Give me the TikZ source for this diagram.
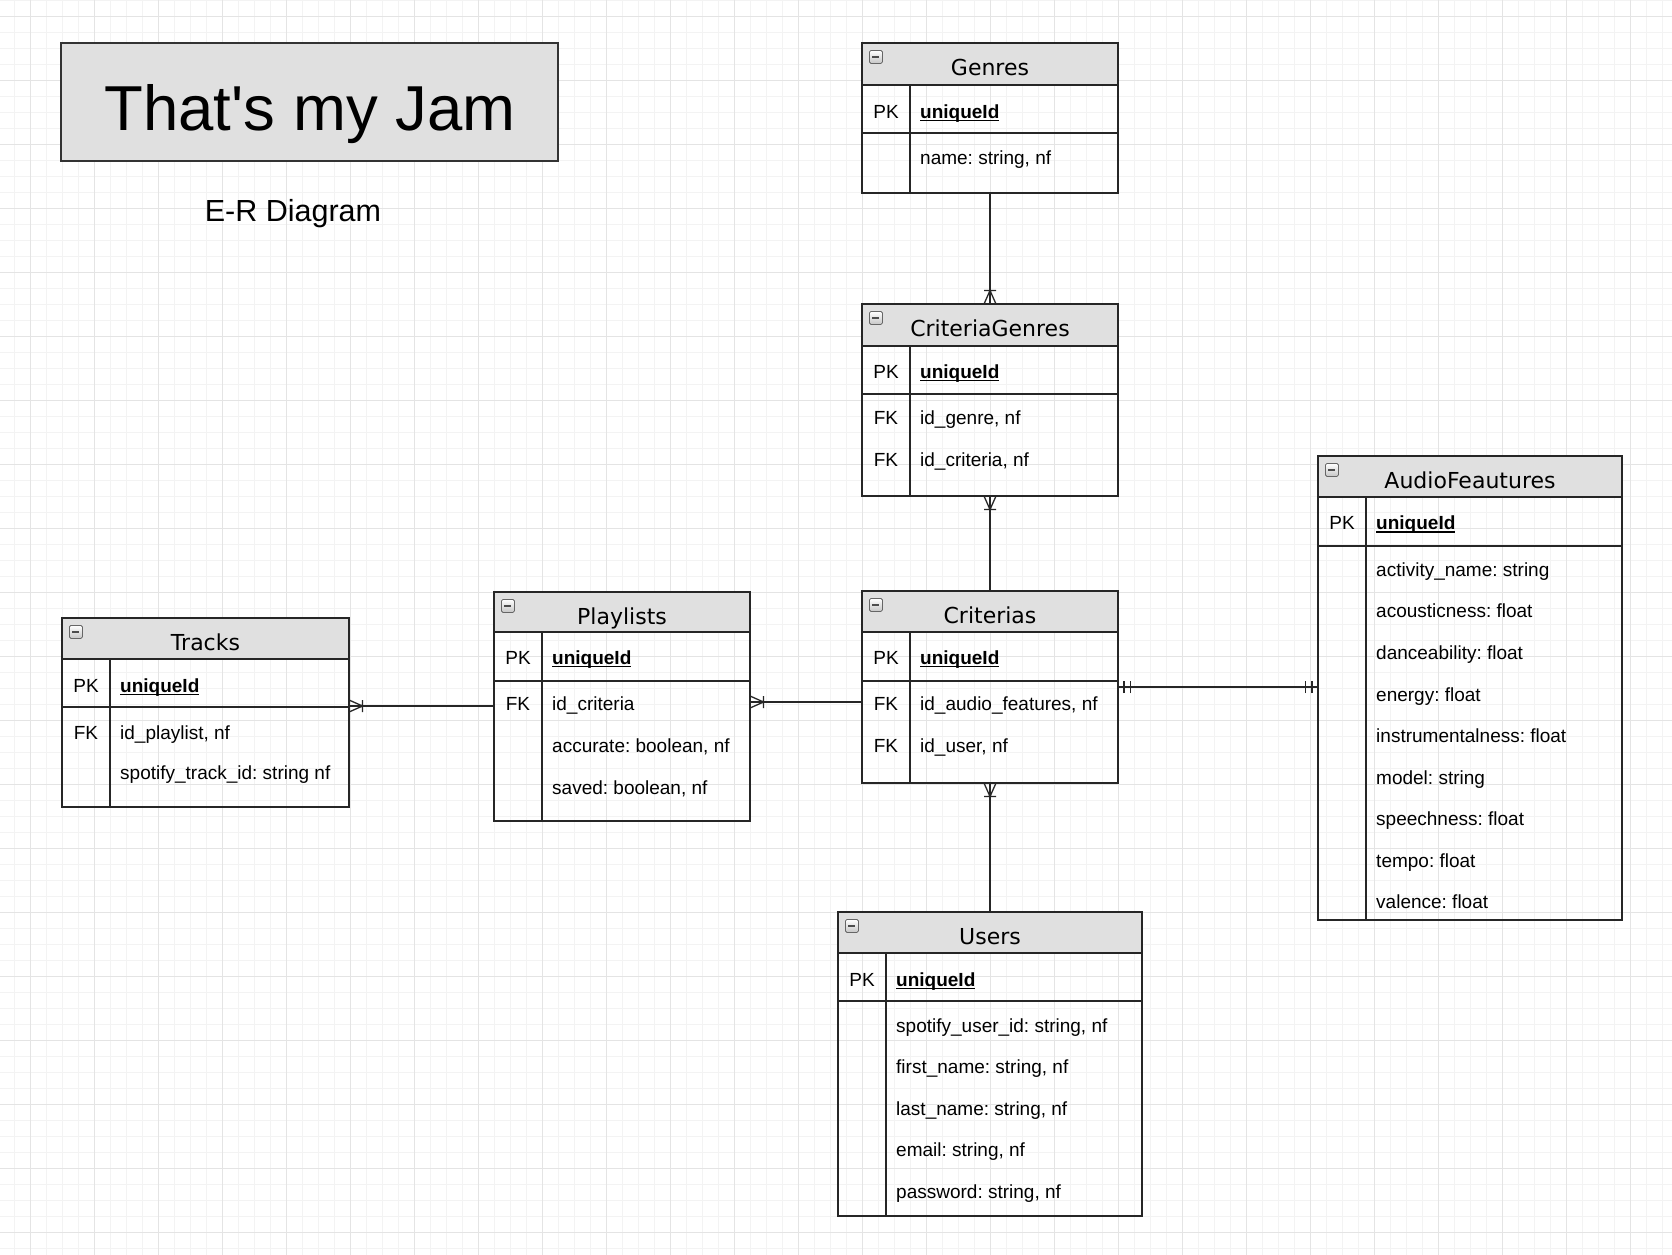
\documentclass[tikz,border=0pt]{standalone}
\usepackage{fontspec}
\setmainfont{Liberation Sans}
\newfontfamily\headfont{DejaVu Sans}
\usepackage{xcolor}
\usetikzlibrary{
    arrows.meta,
    shapes,
    positioning,
    calc,
    decorations.markings
}
\definecolor{headgray}{HTML}{E0E0E0}
\definecolor{gridmajor}{HTML}{E4E4E4}
\definecolor{gridminor}{HTML}{F3F3F3}
\frenchspacing
\newcommand{\pkfield}[1]{\setbox0\hbox{\textbf{#1}}\rlap{\rule[-3pt]{\wd0}{1.3pt}}\box0}

\begin{document}
\begin{tikzpicture}[x=1pt, y=-1pt,
    table-node/.style={rectangle, draw=black!85, line width=1.4pt, anchor=north west, inner sep=0pt, outer sep=0pt},
    head-node/.style={table-node, fill=headgray},
    icon-node/.style={rectangle, anchor=north west, minimum size=13pt, inner sep=0pt, rounded corners=1.5pt,
        draw=gray!80!black, line width=0.8pt, top color=white, bottom color=gray!45,
        path picture={\draw[line width=1.6pt, black!70] ([xshift=3pt]path picture bounding box.west) -- ([xshift=-3pt]path picture bounding box.east);}},
    title-node/.style={anchor=base, inner sep=0pt, font=\headfont\fontsize{22}{26}\selectfont},
    key-node/.style={anchor=base, inner sep=0pt, font=\fontsize{19}{23}\selectfont},
    field-node/.style={anchor=base west, inner sep=0pt, font=\fontsize{19}{23}\selectfont},
    row-line/.style={draw=black!85, line width=1.4pt},
    conn/.style={draw=black!85, line width=1.3pt},
    many-start/.style={postaction={decorate, decoration={markings, mark=at position 0 with {\draw[conn] (0,6) -- (13.5,0) -- (0,-6) (13.5,6) -- (13.5,-6);}}}},
    many-end/.style={postaction={decorate, decoration={markings, mark=at position 1 with {\draw[conn] (0,6) -- (-13.5,0) -- (0,-6) (-13.5,6) -- (-13.5,-6);}}}},
    one-both/.style={postaction={decorate, decoration={markings,
        mark=at position 0 with {\draw[conn] (6,6) -- (6,-6) (12.5,6) -- (12.5,-6);},
        mark=at position 1 with {\draw[conn] (-6,6) -- (-6,-6) (-12.5,6) -- (-12.5,-6);}}}}
]
\useasboundingbox (0,0) rectangle (1672,1254);
\fill[white] (0,0) rectangle (1672,1254);
% grid
\begin{scope}
    \clip (0,0) rectangle (1672,1254);
    \draw[gridminor, line width=1pt, step=16pt, shift={(14.6,0)}] (-32,1300) grid (1700,-32);
    \draw[gridmajor, line width=1pt, step=64pt, shift={(30.6,16)}] (-128,1300) grid (1700,-128);
\end{scope}

% title
\node[table-node, fill=headgray, draw=black!80, line width=1.5pt, minimum width=497, minimum height=118] (title-box) at (61,43) {};
\node[anchor=base, font=\fontsize{63.5}{70}\selectfont] (title) at (310,130) {That\textquotesingle s my Jam};
\node[anchor=base, font=\fontsize{30.5}{34}\selectfont] (subtitle) at (293,221) {E-R Diagram};

% Genres
\node[head-node, minimum width=256, minimum height=42] (genres-head) at (862,43) {};
\node[table-node, minimum width=256, minimum height=150] (genres) at (862,43) {};
\node[icon-node] (genres-icon) at (869,50) {};
\node[title-node] (genres-title) at (990,75.5) {Genres};
\draw[row-line] (862,133) -- (1118,133);
\draw[row-line] (910,85) -- (910,193);
\node[key-node] (genres-pk) at (886,118) {PK};
\node[field-node] (genres-id) at (920,118) {\pkfield{uniqueId}};
\node[field-node] (genres-name) at (920,164) {name: string, nf};

% CriteriaGenres
\node[head-node, minimum width=256, minimum height=42] (critgenres-head) at (862,304) {};
\node[table-node, minimum width=256, minimum height=192] (critgenres) at (862,304) {};
\node[icon-node] (critgenres-icon) at (869,311) {};
\node[title-node] (critgenres-title) at (990,336.5) {CriteriaGenres};
\draw[row-line] (862,394) -- (1118,394);
\draw[row-line] (910,346) -- (910,496);
\node[key-node] (critgenres-pk) at (886,378) {PK};
\node[field-node] (critgenres-id) at (920,378) {\pkfield{uniqueId}};
\node[key-node] (critgenres-fk1) at (886,424) {FK};
\node[field-node] (critgenres-genre) at (920,424) {id\_genre, nf};
\node[key-node] (critgenres-fk2) at (886,466) {FK};
\node[field-node] (critgenres-criteria) at (920,466) {id\_criteria, nf};

% Criterias
\node[head-node, minimum width=256, minimum height=41] (criterias-head) at (862,591) {};
\node[table-node, minimum width=256, minimum height=192] (criterias) at (862,591) {};
\node[icon-node] (criterias-icon) at (869,598) {};
\node[title-node] (criterias-title) at (990,623.5) {Criterias};
\draw[row-line] (862,681) -- (1118,681);
\draw[row-line] (910,632) -- (910,783);
\node[key-node] (criterias-pk) at (886,664) {PK};
\node[field-node] (criterias-id) at (920,664) {\pkfield{uniqueId}};
\node[key-node] (criterias-fk1) at (886,710) {FK};
\node[field-node] (criterias-audio) at (920,710) {id\_audio\_features, nf};
\node[key-node] (criterias-fk2) at (886,752) {FK};
\node[field-node] (criterias-user) at (920,752) {id\_user, nf};

% Playlists
\node[head-node, minimum width=256, minimum height=40] (playlists-head) at (494,592) {};
\node[table-node, minimum width=256, minimum height=229] (playlists) at (494,592) {};
\node[icon-node] (playlists-icon) at (501,599) {};
\node[title-node] (playlists-title) at (622,624.5) {Playlists};
\draw[row-line] (494,681) -- (750,681);
\draw[row-line] (542,632) -- (542,821);
\node[key-node] (playlists-pk) at (518,664) {PK};
\node[field-node] (playlists-id) at (552,664) {\pkfield{uniqueId}};
\node[key-node] (playlists-fk) at (518,710) {FK};
\node[field-node] (playlists-criteria) at (552,710) {id\_criteria};
\node[field-node] (playlists-accurate) at (552,752) {accurate: boolean, nf};
\node[field-node] (playlists-saved) at (552,794) {saved: boolean, nf};

% Tracks
\node[head-node, minimum width=287, minimum height=41] (tracks-head) at (62,618) {};
\node[table-node, minimum width=287, minimum height=189] (tracks) at (62,618) {};
\node[icon-node] (tracks-icon) at (69,625) {};
\node[title-node] (tracks-title) at (205.5,650) {Tracks};
\draw[row-line] (62,707) -- (349,707);
\draw[row-line] (110,659) -- (110,807);
\node[key-node] (tracks-pk) at (86,692) {PK};
\node[field-node] (tracks-id) at (120,692) {\pkfield{uniqueId}};
\node[key-node] (tracks-fk) at (86,739) {FK};
\node[field-node] (tracks-playlist) at (120,739) {id\_playlist, nf};
\node[field-node] (tracks-spotify) at (120,779) {spotify\_track\_id: string nf};

% AudioFeautures
\node[head-node, minimum width=304, minimum height=41] (audio-head) at (1318,456) {};
\node[table-node, minimum width=304, minimum height=464] (audio) at (1318,456) {};
\node[icon-node] (audio-icon) at (1325,463) {};
\node[title-node] (audio-title) at (1470,488) {AudioFeautures};
\draw[row-line] (1318,546) -- (1622,546);
\draw[row-line] (1366,497) -- (1366,920);
\node[key-node] (audio-pk) at (1342,529.5) {PK};
\node[field-node] (audio-id) at (1376,529.5) {\pkfield{uniqueId}};
\node[field-node] (audio-activity) at (1376,576) {activity\_name: string};
\node[field-node] (audio-acoustic) at (1376,617.5) {acousticness: float};
\node[field-node] (audio-dance) at (1376,659) {danceability: float};
\node[field-node] (audio-energy) at (1376,701) {energy: float};
\node[field-node] (audio-instr) at (1376,742) {instrumentalness: float};
\node[field-node] (audio-model) at (1376,784) {model: string};
\node[field-node] (audio-speech) at (1376,825.5) {speechness: float};
\node[field-node] (audio-tempo) at (1376,867) {tempo: float};
\node[field-node] (audio-valence) at (1376,908.5) {valence: float};

% Users
\node[head-node, minimum width=304, minimum height=41] (users-head) at (838,912) {};
\node[table-node, minimum width=304, minimum height=304] (users) at (838,912) {};
\node[icon-node] (users-icon) at (845,919) {};
\node[title-node] (users-title) at (990,944) {Users};
\draw[row-line] (838,1001) -- (1142,1001);
\draw[row-line] (886,953) -- (886,1216);
\node[key-node] (users-pk) at (862,986) {PK};
\node[field-node] (users-id) at (896,986) {\pkfield{uniqueId}};
\node[field-node] (users-spotify) at (896,1032) {spotify\_user\_id: string, nf};
\node[field-node] (users-first) at (896,1073.5) {first\_name: string, nf};
\node[field-node] (users-last) at (896,1115) {last\_name: string, nf};
\node[field-node] (users-email) at (896,1156) {email: string, nf};
\node[field-node] (users-password) at (896,1198) {password: string, nf};

% relations
\coordinate (tp-link) at (0,706);
\coordinate (pc-link) at (0,702);
\coordinate (ca-link) at (0,687);
\draw[conn, many-end] (genres.south) -- (critgenres.north);
\draw[conn, many-start] (critgenres.south) -- (criterias.north);
\draw[conn, many-start] (criterias.south) -- (users.north);
\draw[conn, many-start] (tracks.east |- tp-link) -- (playlists.west |- tp-link);
\draw[conn, many-start] (playlists.east |- pc-link) -- (criterias.west |- pc-link);
\draw[conn, one-both] (criterias.east |- ca-link) -- (audio.west |- ca-link);
\end{tikzpicture}
\end{document}
